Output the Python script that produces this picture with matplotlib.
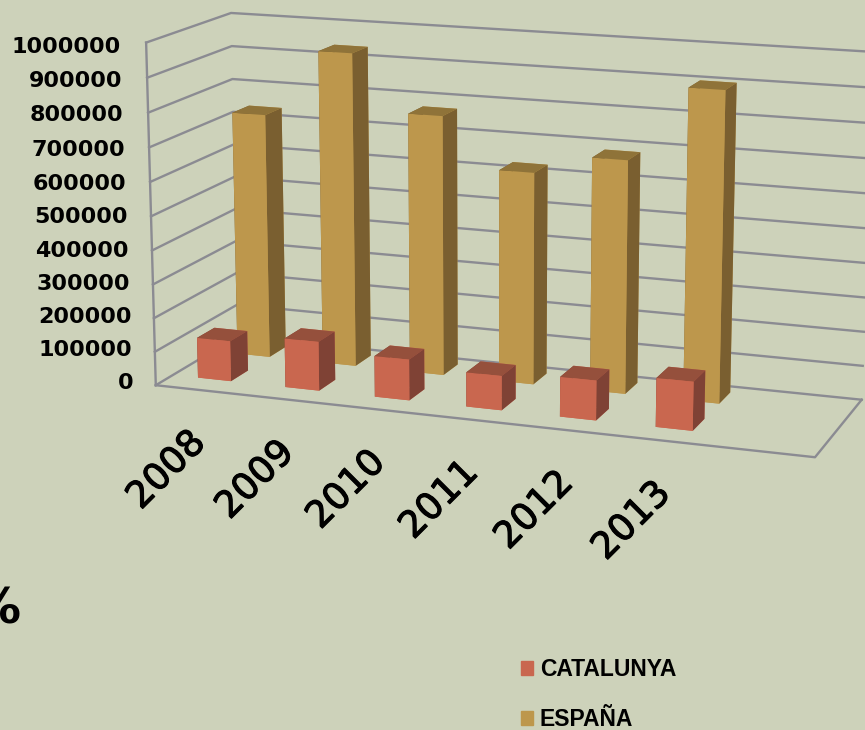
import matplotlib
matplotlib.use('Agg')
import matplotlib.pyplot as plt
import matplotlib.patheffects as pe
from matplotlib.patches import Patch
from mpl_toolkits.mplot3d import proj3d

years = ['2008', '2009', '2010', '2011', '2012', '2013']
catalunya = [120000, 145000, 120000, 100000, 115000, 140000]
espana = [735000, 935000, 770000, 625000, 682000, 900000]
value_ticks = [0, 100000, 200000, 300000, 400000, 500000, 600000, 700000, 800000, 900000, 1000000]

BG = '#cdd2ba'
GRID = '#8b8b92'
# faces in bar3d order: bottom, top, front, back, left, right
CAT_FACES = ['#c9674f', '#95503c', '#c9674f', '#c9674f', '#7f4235', '#7f4235']
ESP_FACES = ['#bd974c', '#8f7339', '#bd974c', '#bd974c', '#7a5f30', '#7a5f30']

fig = plt.figure(figsize=(8.65, 7.3), dpi=100, facecolor=BG)

# big square axes, moved so that the origin lands where the chart corner should be
size = 1200
ax = fig.add_axes([0, 0, size / 865, size / 730], projection='3d', computed_zorder=False)
ax.set_xlim(0, 7)
ax.set_ylim(0, 2)
ax.set_zlim(0, 1000000)
ax.view_init(elev=13.347, azim=-70.279, roll=-0.093)
ax.set_proj_type('persp', focal_length=0.4354)
ax.set_box_aspect((1, 0.2864, 0.5142), zoom=0.6476)
ax.set_axis_off()
ax.patch.set_alpha(0)
fig.canvas.draw()
x0, y0 = ax.transData.transform((0, 0))
ax.set_position([(506.2 - x0) / 865, (730 - 222.3 - y0) / 730, size / 865, size / 730])


def label(x, y, z, text, dx, dy, **kw):
    # 3d point to 2d axes position, then an offset in pixels
    px, py, _ = proj3d.proj_transform(x, y, z, ax.get_proj())
    ax.annotate(text, (px, py), xytext=(dx, dy), textcoords='offset pixels',
                annotation_clip=False, family='DejaVu Sans', color='black', **kw)


# walls and floor
for v in value_ticks:
    ax.plot([0, 0, 7], [0, 2, 2], [v, v, v], color=GRID, lw=1.7, zorder=1)
ax.plot([0, 0], [0, 0], [0, 1000000], color=GRID, lw=1.7, zorder=1)
ax.plot([0, 7, 7], [0, 0, 2], [0, 0, 0], color=GRID, lw=1.7, zorder=1)

bar_w = 0.38
bar_d = 0.42
xs = [i + 0.48 - bar_w / 2 for i in range(len(years))]
ax.bar3d(xs, [1.37] * 6, [0] * 6, bar_w, bar_d, espana, color=ESP_FACES * 6,
         shade=False, zorder=2)
ax.bar3d(xs, [0.40] * 6, [0] * 6, bar_w, bar_d, catalunya, color=CAT_FACES * 6,
         shade=False, zorder=3)

for v in value_ticks:
    label(0, 0, v, str(v), -22 - 3 * v / 1000000, 2 - 6 * v / 1000000,
          ha='right', va='center', fontsize=16, fontweight='bold')

for i, year in enumerate(years):
    label(i + 0.5, 0, 0, year, -33, -80, ha='center', va='center', rotation=45,
          rotation_mode='anchor', fontsize=26.5,
          path_effects=[pe.withStroke(linewidth=0.8, foreground='black')])

fig.text(21 / 865, 1 - 610 / 730, '%', ha='right', va='center', fontsize=36,
         fontweight='bold', family='DejaVu Sans')

handles = [Patch(color=CAT_FACES[0]), Patch(color=ESP_FACES[0])]
fig.legend(handles, ['CATALUNYA', 'ESPAÑA'], loc='upper left',
           bbox_to_anchor=(500 / 865, 1 - 637.5 / 730), frameon=False,
           prop={'family': 'Liberation Sans', 'weight': 'bold', 'size': 16.5},
           handlelength=0.56, handleheight=0.56, handletextpad=0.28, labelspacing=1.17)

fig.savefig('out.png', dpi=100, facecolor=BG)
